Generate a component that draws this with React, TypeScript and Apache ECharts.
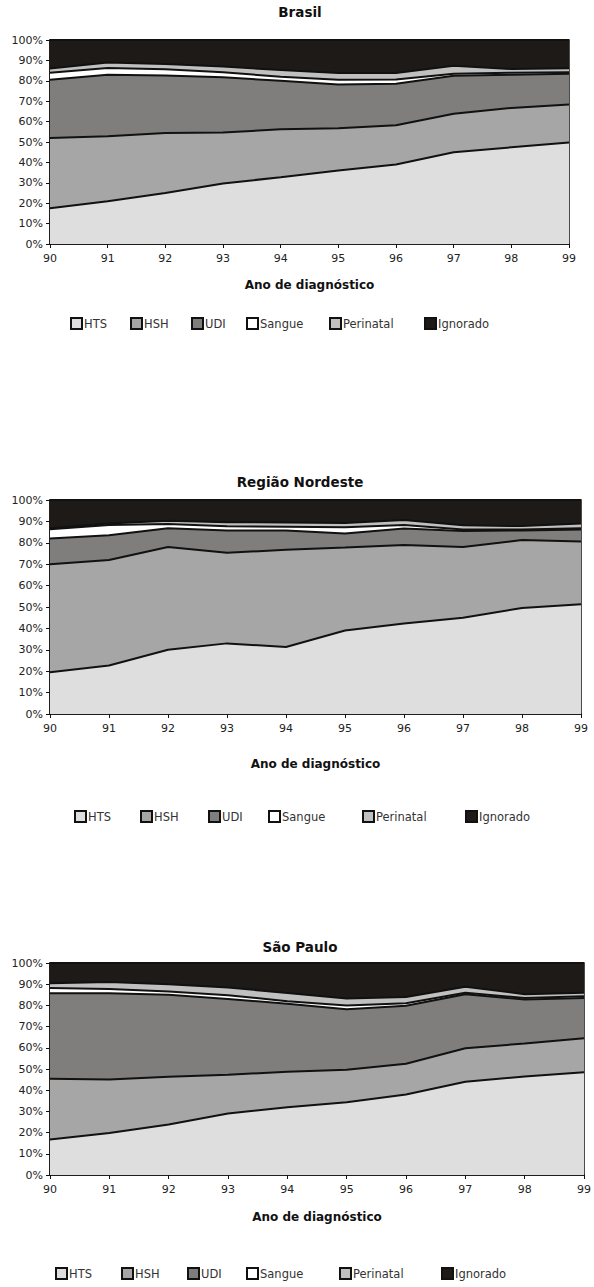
import React, { useEffect, useRef } from "react";
import * as echarts from "echarts";

const years = ["90", "91", "92", "93", "94", "95", "96", "97", "98", "99"];
const seriesNames = ["HTS", "HSH", "UDI", "Sangue", "Perinatal", "Ignorado"];
const seriesColors = ["#dedede", "#a6a6a6", "#807e7c", "#ffffff", "#c0c0c0", "#1e1a17"];
const yTicks = ["0%", "10%", "20%", "30%", "40%", "50%", "60%", "70%", "80%", "90%", "100%"];

// Brasil (percent of cases per year)
const brHTS = [17.5, 21, 25, 29.7, 32.7, 36, 39, 45, 47.4, 49.8];
const brHSH = [34.5, 31.8, 29.4, 24.9, 23.6, 20.7, 19.2, 18.8, 19.3, 18.6];
const brUDI = [28.5, 30.2, 28.2, 27.1, 23.7, 21.5, 20.3, 18.7, 16.3, 15.1];
const brSangue = [3.5, 3.3, 3.1, 2.5, 2, 2.3, 2.1, 1, 1, 0.7];
const brPerinatal = [2, 2.7, 2.5, 2.8, 3.3, 3.3, 3.2, 3.9, 1.8, 1.9];
const brIgnorado = [14, 11, 11.8, 13, 14.7, 16.2, 16.2, 12.6, 14.2, 13.9];

// Região Nordeste
const neHTS = [19.5, 22.7, 30, 33, 31.3, 39, 42.3, 45, 49.5, 51.3];
const neHSH = [50.5, 49.3, 48, 42.3, 45.5, 38.8, 36.7, 33, 31.8, 29.3];
const neUDI = [12, 11.5, 8.8, 10.5, 8.9, 6.5, 7.7, 7.5, 4.5, 5.6];
const neSangue = [4.3, 4.8, 2, 1.9, 1.8, 3, 1.6, 0.7, 0.4, 0.6];
const nePerinatal = [0.5, 0.7, 1.5, 1.9, 2, 2, 2.3, 2, 1.6, 2.2];
const neIgnorado = [13.2, 11, 9.7, 10.4, 10.5, 10.7, 9.4, 11.8, 12.2, 11];

// São Paulo
const spHTS = [16.7, 19.8, 23.8, 29, 32, 34.3, 38, 44, 46.5, 48.5];
const spHSH = [28.7, 25.2, 22.5, 18.3, 16.7, 15.3, 14.5, 15.8, 15.5, 16];
const spUDI = [40.3, 40.7, 38.7, 35.7, 32.1, 28.6, 27.3, 25.5, 20.8, 19];
const spSangue = [2.5, 2, 1.5, 1.8, 1.2, 1.8, 1.2, 0.7, 0.7, 0.8];
const spPerinatal = [2.3, 3.3, 3.5, 3.7, 3.8, 3.3, 3, 2.8, 1.8, 1.7];
const spIgnorado = [9.5, 9, 10, 11.5, 14.2, 16.7, 16, 11.2, 14.7, 14];

const chartTitles = ["Brasil", "Região Nordeste", "São Paulo"];
const xAxisTitle = "Ano de diagnóstico";

const panels = [
  {
    data: [brHTS, brHSH, brUDI, brSangue, brPerinatal, brIgnorado],
    grid: { left: 50, top: 40, width: 519, height: 204 },
    titleTop: 5, nameGap: 35, legendTop: 317,
    legendLefts: [70, 130, 191, 246, 329, 424],
  },
  {
    data: [neHTS, neHSH, neUDI, neSangue, nePerinatal, neIgnorado],
    grid: { left: 50, top: 500, width: 531, height: 214 },
    titleTop: 475, nameGap: 44, legendTop: 810,
    legendLefts: [74, 140, 208, 268, 362, 465],
  },
  {
    data: [spHTS, spHSH, spUDI, spSangue, spPerinatal, spIgnorado],
    grid: { left: 50, top: 963, width: 534, height: 212 },
    titleTop: 940, nameGap: 36, legendTop: 1267,
    legendLefts: [55, 121, 187, 246, 339, 441],
  },
];

const FONT = "DejaVu Sans";

export default function App() {
  const ref = useRef<HTMLDivElement>(null);
  useEffect(() => {
    if (!ref.current) return;
    const chart = echarts.init(ref.current, null, { renderer: "svg" });
    const option: any = {
      animation: false,
      backgroundColor: "#ffffff",
      title: panels.map((p, i) => ({
        text: chartTitles[i],
        left: 300,
        textAlign: "center",
        top: p.titleTop,
        padding: 0,
        textStyle: { fontFamily: FONT, fontSize: 13.5, fontWeight: "bold", color: "#111" },
      })),
      legend: panels.flatMap((p) =>
        seriesNames.map((name, k) => ({
          data: [name],
          left: p.legendLefts[k],
          top: p.legendTop,
          padding: 0,
          itemWidth: 11,
          itemHeight: 11,
          icon: "rect",
          selectedMode: false,
          itemStyle: { borderColor: "#111", borderWidth: 2 },
          textStyle: { fontFamily: FONT, fontSize: 11.5, color: "#333", padding: [0, 0, 0, -3] },
        }))
      ),
      grid: panels.map((p) => ({ ...p.grid, show: true, borderColor: "#111", borderWidth: 1.5, backgroundColor: "transparent" })),
      xAxis: panels.map((p, i) => ({
        type: "category",
        gridIndex: i,
        data: years,
        boundaryGap: false,
        name: xAxisTitle,
        nameLocation: "middle",
        nameGap: p.nameGap,
        nameTextStyle: { fontFamily: FONT, fontSize: 12, fontWeight: "bold", color: "#111" },
        axisLine: { show: true, lineStyle: { color: "#111", width: 1.5 } },
        axisTick: { show: true, length: 4, lineStyle: { color: "#111" } },
        axisLabel: { fontFamily: FONT, fontSize: 11, color: "#222", margin: 9 },
        splitLine: { show: false },
      })),
      yAxis: panels.map((_, i) => ({
        type: "value",
        gridIndex: i,
        min: 0,
        max: 100,
        interval: 10,
        axisLine: { show: true, lineStyle: { color: "#111", width: 1.5 } },
        axisTick: { show: true, length: 4, lineStyle: { color: "#111" } },
        axisLabel: {
          fontFamily: FONT,
          fontSize: 11,
          color: "#222",
          margin: 7,
          formatter: (v: number) => yTicks[Math.round(v / 10)],
        },
        splitLine: { show: false },
      })),
      series: panels.flatMap((p, i) =>
        seriesNames.map((name, k) => ({
          name,
          type: "line",
          xAxisIndex: i,
          yAxisIndex: i,
          stack: "panel" + i,
          data: p.data[k],
          symbol: "none",
          smooth: false,
          itemStyle: { color: seriesColors[k] },
          lineStyle: { color: "#111", width: 2 },
          areaStyle: { color: seriesColors[k], opacity: 1 },
          z: 2,
        }))
      ),
    };
    chart.setOption(option);
    return () => chart.dispose();
  }, []);
  return (
    <div
      ref={ref}
      style={{ position: "absolute", left: 0, top: 0, width: 594, height: 1287 }}
    />
  );
}
